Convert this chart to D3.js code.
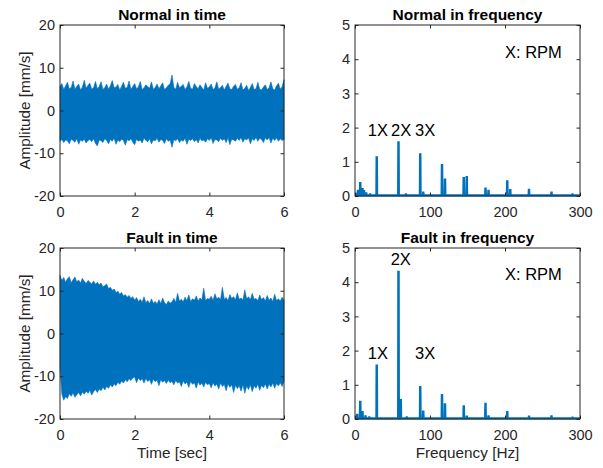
<!DOCTYPE html>
<html>
<head>
<meta charset="utf-8">
<script src="https://cdn.jsdelivr.net/npm/d3@7"></script>
<style>
  body { margin: 0; background: #fff; }
  text { font-family: "Liberation Sans", Arial, Helvetica, sans-serif; fill: #262626; }
</style>
</head>
<body>
<svg id="chart" width="603" height="468"></svg>
<script>
// envelope of the velocity signal, samples evenly spaced over 0 .. 6 sec (one every 0.05 sec)
const normalUpper = [
  5.6,6.3,4.9,5.8,6.6,5.1,5.4,6.9,5.0,5.7,6.2,4.8,5.5,7.1,5.2,5.9,6.4,5.0,5.3,6.8,
  5.1,5.6,6.7,4.9,5.4,6.2,5.0,5.8,7.0,5.3,5.5,6.1,4.8,5.7,6.6,5.2,5.4,6.9,5.0,5.6,
  6.3,5.1,5.5,6.8,4.9,5.3,6.0,5.6,5.2,6.7,5.0,5.4,6.2,5.1,5.8,6.5,4.9,5.3,5.9,6.2,
  8.3,5.4,5.0,6.6,5.3,5.7,6.1,4.9,5.5,6.8,5.2,5.0,6.3,5.6,5.1,6.0,5.4,4.8,6.5,5.2,
  5.5,6.2,4.9,5.3,6.7,5.0,5.4,5.9,4.8,5.6,6.4,5.1,4.9,5.7,6.1,5.0,5.3,6.5,4.8,5.2,
  5.9,4.7,5.4,6.3,4.9,5.1,6.6,5.0,4.8,5.5,6.0,4.9,5.3,6.7,5.1,4.8,5.8,6.4,5.0,5.6,7.2];
const normalLower = [
  -7.2,-6.8,-7.5,-6.9,-7.1,-7.8,-6.7,-7.0,-7.4,-6.6,-7.9,-6.9,-7.2,-6.7,-7.6,-7.0,-6.8,-7.3,-6.6,-7.7,
  -8.3,-6.9,-7.1,-7.5,-6.6,-7.0,-7.8,-6.8,-7.2,-6.5,-7.9,-6.9,-7.3,-6.7,-7.0,-8.1,-6.8,-7.1,-6.6,-7.4,
  -8.0,-6.7,-7.2,-6.9,-7.6,-6.5,-7.0,-7.3,-6.6,-7.8,-6.9,-7.1,-6.5,-7.4,-6.8,-7.0,-7.7,-6.6,-7.2,-6.9,
  -8.6,-6.8,-7.1,-6.6,-7.5,-6.9,-7.2,-6.5,-7.9,-6.7,-7.0,-6.6,-7.3,-6.8,-7.6,-6.5,-7.1,-6.9,-7.4,-6.6,
  -7.0,-6.4,-7.7,-6.8,-6.9,-7.3,-6.5,-7.0,-6.6,-7.5,-6.4,-8.0,-6.7,-6.9,-7.2,-6.5,-7.0,-6.3,-7.4,-6.6,
  -6.9,-6.4,-7.8,-6.6,-7.0,-6.3,-7.2,-6.5,-6.8,-7.5,-6.4,-6.9,-6.3,-7.6,-6.5,-7.0,-6.4,-7.2,-6.6,-7.0,-6.8];
const faultUpper = [
  13.6,12.4,13.1,12.0,12.8,13.3,11.9,12.6,13.2,12.1,12.5,11.8,12.9,12.2,11.7,12.4,12.0,11.6,12.3,11.5,
  12.0,11.4,11.8,10.9,11.2,11.6,10.5,10.8,10.1,10.4,9.6,9.9,9.2,9.6,8.8,9.1,8.5,8.9,8.2,8.6,
  7.8,8.4,7.5,8.0,7.3,8.6,7.2,7.7,7.0,8.1,7.1,7.5,6.9,7.9,7.0,8.3,7.2,6.8,7.6,7.1,
  7.4,8.2,7.3,9.4,7.6,8.0,7.4,8.5,7.7,9.0,7.5,8.1,7.8,8.8,7.6,8.3,7.9,10.6,7.7,8.2,
  8.0,8.7,7.8,9.3,8.1,8.5,7.9,10.8,8.0,8.4,7.7,9.1,8.2,8.6,7.9,9.5,8.0,8.3,7.8,10.2,
  8.1,8.6,7.9,9.4,8.0,8.2,7.7,9.0,7.9,8.4,7.6,8.9,7.8,8.3,7.5,9.2,7.7,8.1,7.6,8.5,7.8];
const faultLower = [
  -8.0,-14.2,-15.6,-14.8,-15.2,-14.1,-14.7,-13.9,-14.9,-14.3,-13.8,-14.6,-13.7,-14.2,-13.5,-14.0,-13.3,-14.4,-13.6,-13.1,
  -13.8,-13.0,-13.4,-12.6,-13.2,-12.4,-12.8,-12.0,-12.5,-11.8,-12.2,-11.4,-11.9,-11.1,-11.6,-10.8,-11.3,-10.6,-11.0,-10.4,
  -10.2,-11.5,-10.4,-11.0,-10.6,-11.6,-10.5,-11.2,-10.8,-11.9,-10.7,-11.3,-10.9,-12.2,-10.8,-11.4,-11.0,-11.7,-10.9,-11.5,
  -11.2,-12.0,-11.0,-11.6,-11.3,-12.4,-11.1,-11.8,-11.4,-12.6,-11.2,-11.9,-11.5,-12.8,-11.3,-12.1,-11.6,-12.5,-11.4,-12.0,
  -11.7,-12.7,-11.5,-12.3,-11.8,-13.0,-11.6,-12.4,-11.9,-13.4,-11.8,-12.6,-12.0,-13.8,-12.1,-12.9,-12.2,-13.5,-12.0,-14.0,
  -12.3,-13.1,-12.0,-13.6,-12.2,-12.8,-11.9,-13.3,-12.1,-12.7,-11.8,-13.0,-11.9,-12.5,-11.6,-12.8,-11.7,-12.3,-11.5,-12.4,-11.2];

// spectrum peaks (Hz, amplitude)
const normalPeakFreq = [2,4,7,10,12,15,20,29,58,68,87,91,116,120,145,149,174,178,203,207,232,262,290];
const normalPeakAmp  = [0.06,0.15,0.38,0.2,0.14,0.08,0.05,1.13,1.57,0.05,1.22,0.1,0.9,0.48,0.52,0.55,0.22,0.15,0.43,0.17,0.18,0.1,0.05];
const faultPeakFreq  = [3,7,10,14,19,29,58,61,69,87,91,116,120,145,149,174,178,203,232,262,290];
const faultPeakAmp   = [0.12,0.5,0.2,0.08,0.05,1.56,4.3,0.55,0.05,0.93,0.22,0.7,0.43,0.37,0.07,0.44,0.08,0.2,0.07,0.08,0.04];
const noiseFloor = 0.02;

// annotations [text, Hz, amplitude]
const normalNotes = [["1X",17,1.94],["2X",48,1.94],["3X",80,1.94],["X: RPM",200,4.2]];
const faultNotes  = [["1X",17,1.93],["2X",47.5,4.67],["3X",80,1.93],["X: RPM",200,4.25]];

const timeTicks = [0,2,4,6];
const ampTicks = [-20,-10,0,10,20];
const freqTicks = [0,100,200,300];
const specTicks = [0,1,2,3,4,5];

const blue = "#0072BD", ink = "#262626";
const svg = d3.select("#chart");

const panels = [
  {x0:60, x1:284, y0:25, y1:196, title:"Normal in time", kind:"time", up:normalUpper, lo:normalLower},
  {x0:355, x1:580, y0:25, y1:196, title:"Normal in frequency", kind:"freq", f:normalPeakFreq, a:normalPeakAmp, notes:normalNotes},
  {x0:60, x1:284, y0:248, y1:419, title:"Fault in time", kind:"time", up:faultUpper, lo:faultLower, xlabel:"Time [sec]"},
  {x0:355, x1:580, y0:248, y1:419, title:"Fault in frequency", kind:"freq", f:faultPeakFreq, a:faultPeakAmp, notes:faultNotes, xlabel:"Frequency [Hz]"}
];

panels.forEach(p => {
  const isTime = p.kind === "time";
  const x = d3.scaleLinear().domain(isTime ? [0,6] : [0,300]).range([p.x0, p.x1]);
  const y = d3.scaleLinear().domain(isTime ? [-20,20] : [0,5]).range([p.y1, p.y0]);
  const g = svg.append("g");

  if (isTime) {
    const step = 6 / (p.up.length - 1);
    const pts = p.up.map((u, i) => ({t: i*step, u: u, l: p.lo[i]}));
    g.append("path")
      .datum(pts)
      .attr("d", d3.area().x(d => x(d.t)).y0(d => y(d.l)).y1(d => y(d.u)))
      .attr("fill", blue).attr("stroke", blue).attr("stroke-width", 0.6);
  } else {
    // spectrum: noise floor with narrow spikes at each peak
    const pts = [[0, noiseFloor]];
    p.f.forEach((f, i) => {
      pts.push([f-0.5, noiseFloor], [f-0.2, p.a[i]], [f+0.2, p.a[i]], [f+0.5, noiseFloor]);
    });
    pts.push([300, noiseFloor]);
    g.append("path")
      .datum(pts)
      .attr("d", d3.line().x(d => x(d[0])).y(d => y(d[1])))
      .attr("fill", "none").attr("stroke", blue).attr("stroke-width", 2.2)
      .attr("stroke-linejoin", "miter");
  }

  // axes, MATLAB style: inward ticks on all four sides
  const tk = 3.5;
  const fmt = d => String(d);
  const xt = isTime ? timeTicks : freqTicks, yt = isTime ? ampTicks : specTicks;
  const ax = [
    [d3.axisBottom(x).tickValues(xt).tickFormat(fmt).tickPadding(11), `translate(0,${p.y1})`],
    [d3.axisTop(x).tickValues(xt).tickFormat(""), `translate(0,${p.y0})`],
    [d3.axisLeft(y).tickValues(yt).tickFormat(fmt).tickPadding(5), `translate(${p.x0},0)`],
    [d3.axisRight(y).tickValues(yt).tickFormat(""), `translate(${p.x1},0)`]
  ];
  ax.forEach(([a, tr]) => {
    const s = g.append("g").attr("transform", tr)
      .call(a.tickSizeInner(-tk).tickSizeOuter(0));
    s.select(".domain").remove();
    s.selectAll("line").attr("stroke", ink);
    s.selectAll("text").attr("fill", ink).style("font-size", "14.5px")
      .style("font-family", '"Liberation Sans", Arial, sans-serif');
  });
  g.append("rect")
    .attr("x", p.x0).attr("y", p.y0)
    .attr("width", p.x1 - p.x0).attr("height", p.y1 - p.y0)
    .attr("fill", "none").attr("stroke", ink).attr("stroke-width", 1);

  g.append("text")
    .attr("x", (p.x0 + p.x1)/2).attr("y", p.y0 - 5)
    .attr("text-anchor", "middle")
    .style("font-size", "15.5px").style("font-weight", "bold").style("fill", "#000")
    .text(p.title);

  if (isTime) {
    g.append("text")
      .attr("transform", `translate(30,${(p.y0 + p.y1)/2}) rotate(-90)`)
      .attr("text-anchor", "middle").style("font-size", "15.3px")
      .text("Amplitude [mm/s]");
  }
  if (p.xlabel) {
    g.append("text")
      .attr("x", (p.x0 + p.x1)/2).attr("y", p.y1 + 39)
      .attr("text-anchor", "middle").style("font-size", "15.3px")
      .text(p.xlabel);
  }
  if (p.notes) {
    p.notes.forEach(n => {
      g.append("text")
        .attr("x", x(n[1])).attr("y", y(n[2]))
        .attr("dy", "0.36em").style("font-size", "16.5px").style("fill", "#000")
        .text(n[0]);
    });
  }
});
</script>
</body>
</html>
